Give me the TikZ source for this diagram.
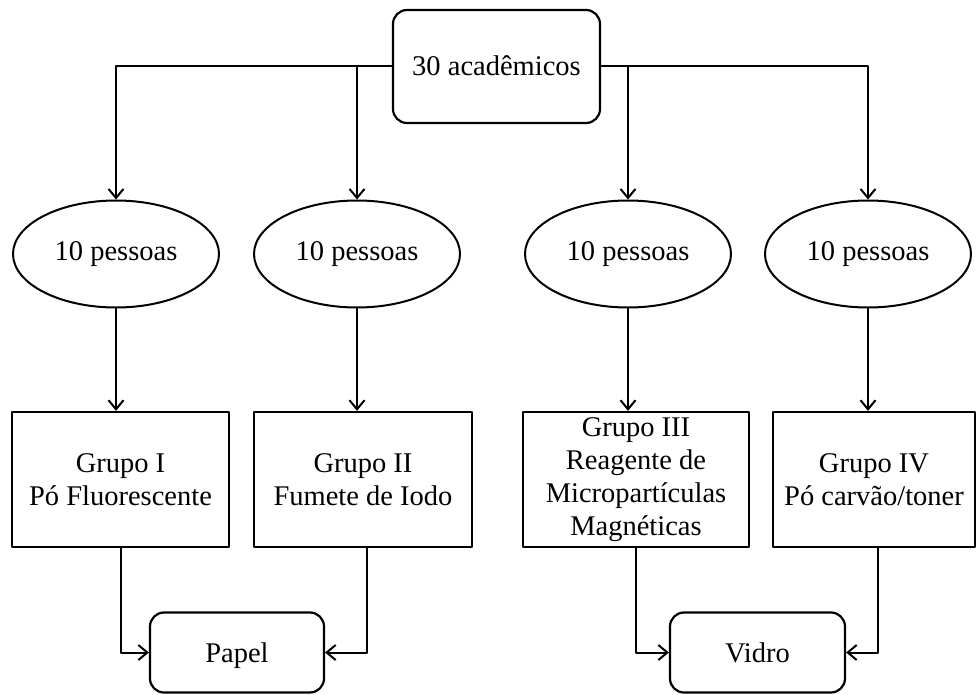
\documentclass[tikz,border=0pt]{standalone}
\usepackage{fontspec}
\setmainfont{Liberation Serif}
\newfontfamily\timesfont{Liberation Serif}
\usetikzlibrary{arrows.meta}
\usetikzlibrary{shapes.geometric}
\tikzset{
  roundbox/.style={draw, line width=2.2pt, rounded corners=14pt, align=center, text height=19pt, text depth=0pt},
  pessoas/.style={draw, ellipse, line width=2pt, minimum width=206pt, minimum height=107pt, inner sep=0pt},
  grupo/.style={draw, line width=2.4pt, align=center, minimum height=135pt, inner sep=0pt},
  arr/.style={line width=2pt, -{Straight Barb[length=9pt, width=15pt, line width=2pt]}}
}
\begin{document}
\begin{tikzpicture}[x=1pt, y=-1pt, line cap=round, line join=round,
  font=\timesfont\fontsize{28.5}{33}\selectfont]
\useasboundingbox (0,0) rectangle (978,695);
\node[roundbox, minimum width=207pt, minimum height=113pt] (top) at (496.5,66.5) {30 acadêmicos};
\node[pessoas] (e1) at (116,254) {10 pessoas};
\node[pessoas] (e2) at (357,254) {10 pessoas};
\node[pessoas] (e3) at (628,254) {10 pessoas};
\node[pessoas] (e4) at (868,254) {10 pessoas};
\node[grupo, minimum width=217pt] (g1) at (120.5,479.5) {Grupo I\\Pó Fluorescente};
\node[grupo, minimum width=218pt] (g2) at (363,479.5) {Grupo II\\Fumete de Iodo};
\node[grupo, minimum width=226pt] (g3) at (636,479.5) {Grupo III\\Reagente de\\Micropartículas\\Magnéticas};
\node[grupo, minimum width=202pt] (g4) at (874,479.5) {Grupo IV\\Pó carvão/toner};
\node[roundbox, minimum width=174pt, minimum height=80pt] (papel) at (237,652.5) {Papel};
\node[roundbox, minimum width=175pt, minimum height=80pt] (vidro) at (757.5,652.5) {Vidro};
% top to groups of people
\draw[arr] (top.west) -| (e1.north);
\draw[arr] (e2.north |- top.west) -- (e2.north);
\draw[arr] (top.east) -| (e4.north);
\draw[arr] (e3.north |- top.east) -- (e3.north);
% people to groups
\foreach \i in {1,...,4}
  \draw[arr] (e\i.south) -- (e\i.south |- g\i.north);
% groups to surfaces
\draw[arr] (g1.south) |- (papel.west);
\draw[arr] ([xshift=4pt]g2.south) |- (papel.east);
\draw[arr] (g3.south) |- (vidro.west);
\draw[arr] ([xshift=4pt]g4.south) |- (vidro.east);
\end{tikzpicture}
\end{document}
